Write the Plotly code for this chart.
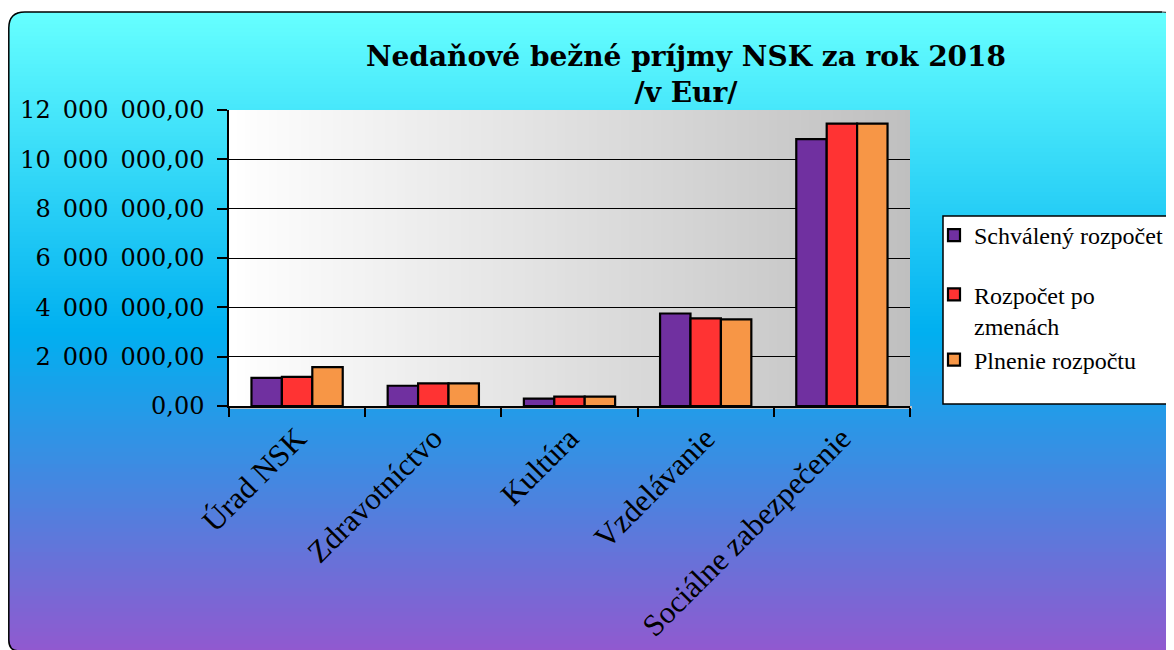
import plotly.graph_objects as go

categories = ["Úrad NSK", "Zdravotníctvo", "Kultúra", "Vzdelávanie", "Sociálne zabezpečenie"]
schvaleny = [1140000, 820000, 300000, 3750000, 10820000]
po_zmenach = [1180000, 920000, 380000, 3550000, 11450000]
plnenie = [1580000, 920000, 380000, 3510000, 11450000]
series_names = ["Schválený rozpočet", "Rozpočet po<br>zmenách", "Plnenie rozpočtu"]
series_groups = ["g1", "g2", "g2"]
series_colors = ["#7030A0", "#FF3333", "#F79646"]

W, H = 1174, 650
OFF = 8  # page offset of the figure (body margin)
# plot area in page pixel coordinates
PL, PR, PT, PB = 229, 910, 110, 406


def px(x):
    return (x - PL) / (PR - PL)


def py(y):
    return (PB - y) / (PB - PT)


def P(x, y):
    return "%f,%f" % (px(x), py(y))


def lerp(c1, c2, t):
    return tuple(int(round(a + (b - a) * t)) for a, b in zip(c1, c2))


def rgb(c):
    return "rgb(%d,%d,%d)" % c


shapes = []
LX, TY = 8.8, 12
# background vertical gradient (cyan -> blue -> purple)
stops = [(12, (102, 255, 255)), (330, (0, 176, 240)), (660, (150, 86, 206))]
step = 4
y = TY
while y < 660:
    for (ya, ca), (yb, cb) in zip(stops[:-1], stops[1:]):
        if ya <= y <= yb:
            col = lerp(ca, cb, (y - ya) / (yb - ya))
            break
    shapes.append(dict(type="rect", xref="paper", yref="paper", layer="below",
                       x0=px(LX), x1=px(1190), y0=py(y), y1=py(y + step + 1),
                       fillcolor=rgb(col), line=dict(width=0)))
    y += step

r = 16
# white corner cut-outs for the rounded border
shapes.append(dict(type="path", xref="paper", yref="paper", layer="below",
                   path="M %s L %s Q %s %s Z" % (P(LX - 1, TY - 1), P(LX + r, TY - 1),
                                                 P(LX, TY), P(LX - 1, TY + r)),
                   fillcolor="white", line=dict(width=0)))
shapes.append(dict(type="path", xref="paper", yref="paper", layer="below",
                   path="M %s L %s Q %s %s Z" % (P(LX - 1, 652), P(LX - 1, 640),
                                                 P(LX, 651), P(LX + 10, 652)),
                   fillcolor="white", line=dict(width=0)))
shapes.append(dict(type="path", xref="paper", yref="paper", layer="below",
                   path="M %s L %s L %s Q %s %s Z" % (P(1162, TY - 1), P(1190, TY - 1), P(1190, 30),
                                                     P(1172, TY), P(1162, TY - 1)),
                   fillcolor="white", line=dict(width=0)))
# border path
shapes.append(dict(type="path", xref="paper", yref="paper", layer="below",
                   path="M %s Q %s %s L %s Q %s %s L %s" % (
                       P(LX + 10, 651), P(LX, 651), P(LX, 640), P(LX, TY + r),
                       P(LX, TY), P(LX + r, TY), P(1162, TY)),
                   line=dict(color="black", width=1.5)))
shapes.append(dict(type="path", xref="paper", yref="paper", layer="below",
                   path="M %s Q %s %s" % (P(1162, TY), P(1171, TY), P(1175, 17)),
                   line=dict(color="#444444", width=1.2)))

# plot area horizontal gradient (white -> gray)
x = PL
while x < PR:
    t = (x - PL) / (PR - PL)
    col = lerp((255, 255, 255), (191, 191, 191), t)
    shapes.append(dict(type="rect", xref="paper", yref="paper", layer="below",
                       x0=px(x), x1=px(min(x + 5, PR)), y0=0, y1=1,
                       fillcolor=rgb(col), line=dict(width=0)))
    x += 4
# slight shadow under the plot area
shapes.append(dict(type="rect", xref="paper", yref="paper", layer="below",
                   x0=px(PL), x1=px(PR + 2), y0=py(PB + 3), y1=py(PB),
                   fillcolor="#BFBFBF", line=dict(width=0)))

# legend box
shapes.append(dict(type="rect", xref="paper", yref="paper", layer="above",
                   x0=px(943), x1=px(1195), y0=py(404), y1=py(216),
                   fillcolor="white", line=dict(color="black", width=1.5)))

fig = go.Figure()
for name, grp, vals, color in zip(series_names, series_groups,
                                  [schvaleny, po_zmenach, plnenie], series_colors):
    fig.add_trace(go.Bar(x=categories, y=vals, name=name, legendgroup=grp,
                         marker=dict(color=color, line=dict(color="black", width=2.2))))

fig.update_layout(
    width=W, height=H,
    margin=dict(l=PL - OFF, r=W - (PR - OFF), t=PT - OFF, b=H - (PB - OFF), autoexpand=False),
    paper_bgcolor="white",
    plot_bgcolor="rgba(0,0,0,0)",
    separators=",\u2002",
    barmode="group", bargap=0.33, bargroupgap=0,
    shapes=shapes,
    title=dict(text="<b>Nedaňové bežné príjmy NSK za rok 2018<br>/v Eur/</b>",
               font=dict(family="DejaVu Serif", size=28, color="black"),
               x=(686 - OFF) / W, xref="container", xanchor="center",
               y=1 - 58 / H, yref="container", yanchor="middle"),
    legend=dict(x=px(934), xanchor="left", y=py(213), yanchor="top",
                bgcolor="rgba(0,0,0,0)", borderwidth=0,
                font=dict(family="Liberation Serif", size=24, color="black"),
                valign="top", tracegroupgap=25, traceorder="grouped", itemclick=False),
    showlegend=True,
)
fig.update_xaxes(
    showline=True, linecolor="black", linewidth=1.5,
    ticks="outside", tickson="boundaries", ticklen=9, tickcolor="black", tickwidth=1.5,
    tickangle=-45,
    tickfont=dict(family="Liberation Serif", size=31, color="black"),
    showgrid=False,
)
fig.update_yaxes(
    range=[0, 12000000], dtick=2000000, tickformat=",.2f",
    showline=True, linecolor="black", linewidth=1.5,
    ticks="outside", ticklen=10, tickcolor="black", tickwidth=1.5,
    ticklabelstandoff=8,
    tickfont=dict(family="DejaVu Serif", size=24, color="black"),
    showgrid=True, gridcolor="black", gridwidth=1.2,
    zeroline=False,
)

fig.write_html("out.html")
